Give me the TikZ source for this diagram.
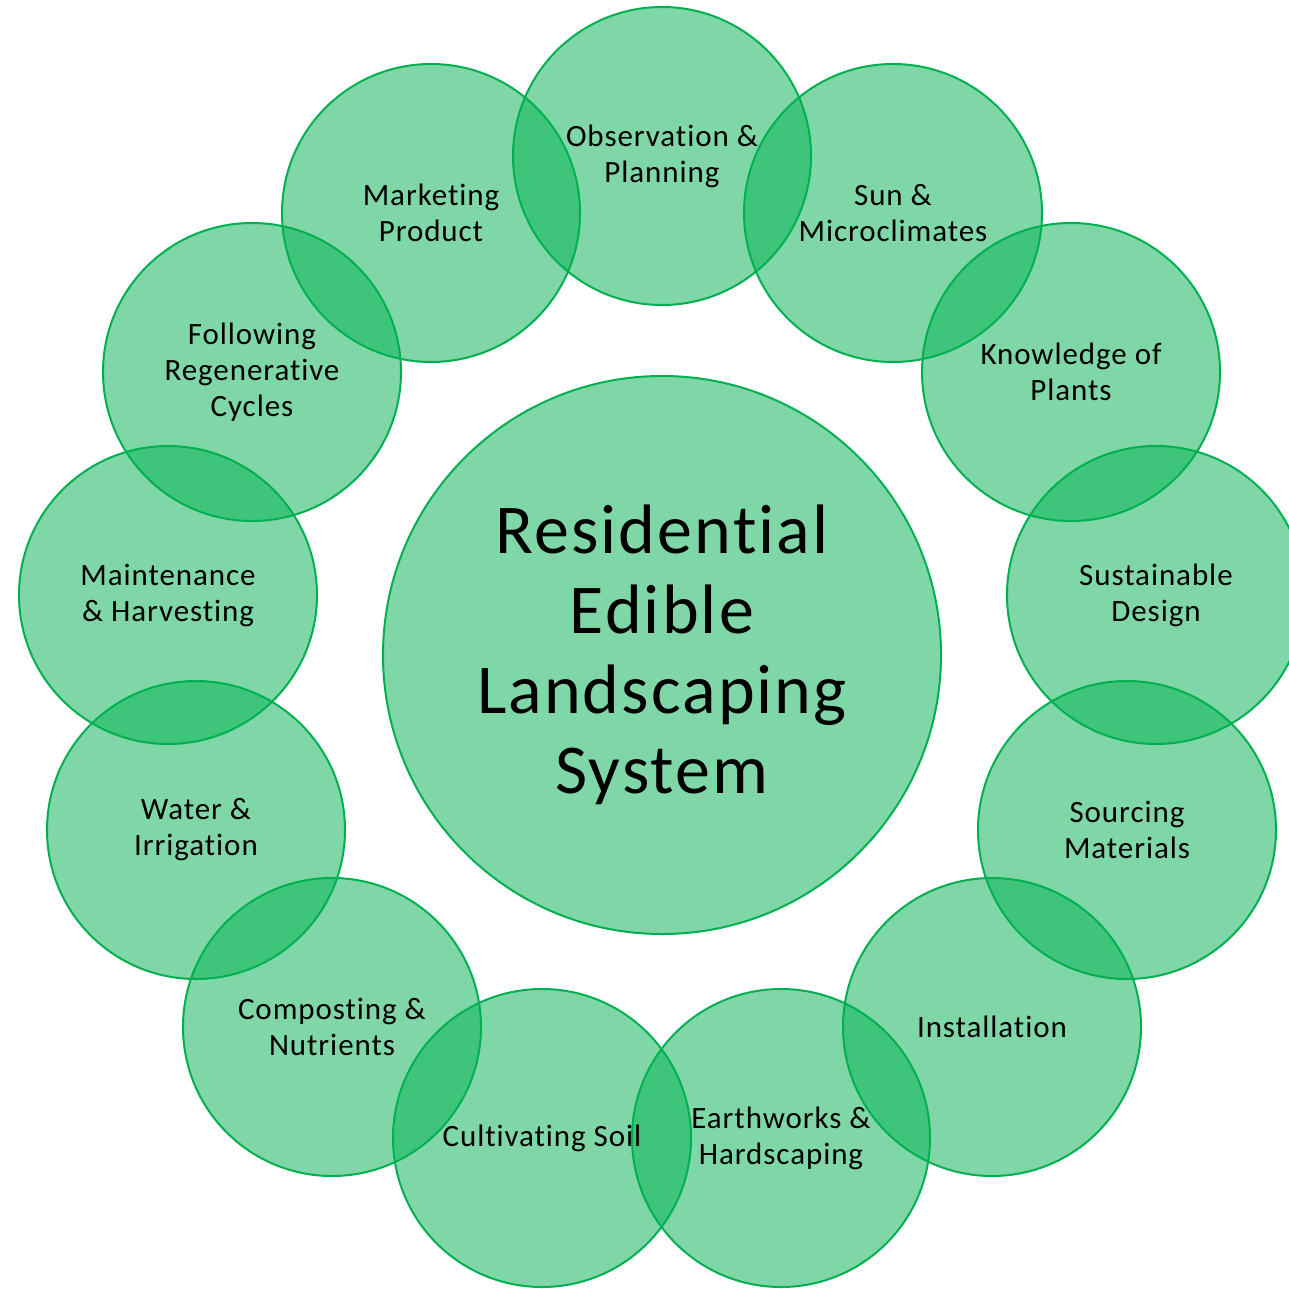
\documentclass[tikz,border=0pt]{standalone}
\usepackage{fontspec}
\setmainfont[Ligatures={NoCommon},LetterSpace=3]{Carlito}
\definecolor{offgreen}{HTML}{00B050}
\begin{document}
\begin{tikzpicture}[x=1pt,y=-1pt,
  ring/.style={circle,draw=offgreen,line width=2pt,fill=offgreen,fill opacity=0.5,draw opacity=1,inner sep=0pt,minimum size=298pt},
  hub/.style={circle,draw=offgreen,line width=2pt,fill=offgreen,fill opacity=0.5,draw opacity=1,inner sep=0pt,minimum size=558pt},
  lbl/.style={align=center,font=\fontsize{31}{36}\selectfont,text=black},
  bigl/.style={align=center,font=\fontsize{70}{80}\selectfont,text=black}]
\useasboundingbox (0,0) rectangle (1289,1289);
\clip (0,0) rectangle (1289,1289);
\node[hub] (hub) at (662,655) {};
\node[ring] (c1) at (662,156) {};
\node[ring] (c2) at (893,213) {};
\node[ring] (c3) at (1071,372) {};
\node[ring] (c4) at (1156,595) {};
\node[ring] (c5) at (1127,830) {};
\node[ring] (c6) at (992,1027) {};
\node[ring] (c7) at (781,1138) {};
\node[ring] (c8) at (542,1138) {};
\node[ring] (c9) at (332,1027) {};
\node[ring] (c10) at (196,830) {};
\node[ring] (c11) at (168,595) {};
\node[ring] (c12) at (252,372) {};
\node[ring] (c13) at (431,213) {};
\node[bigl] (thub) at (hub.center) {Residential\\Edible\\Landscaping\\System};
\node[lbl] (t1) at (c1.center) {Observation \&\\Planning};
\node[lbl] (t2) at (c2.center) {Sun \&\\Microclimates};
\node[lbl] (t3) at (c3.center) {Knowledge of\\Plants};
\node[lbl] (t4) at (c4.center) {Sustainable\\Design};
\node[lbl] (t5) at (c5.center) {Sourcing\\Materials};
\node[lbl] (t6) at (c6.center) {Installation};
\node[lbl] (t7) at (c7.center) {Earthworks \&\\Hardscaping};
\node[lbl] (t8) at (c8.center) {Cultivating Soil};
\node[lbl] (t9) at (c9.center) {Composting \&\\Nutrients};
\node[lbl] (t10) at (c10.center) {Water \&\\Irrigation};
\node[lbl] (t11) at (c11.center) {Maintenance\\\& Harvesting};
\node[lbl] (t12) at (c12.center) {Following\\Regenerative\\Cycles};
\node[lbl] (t13) at (c13.center) {Marketing\\Product};
\end{tikzpicture}
\end{document}
